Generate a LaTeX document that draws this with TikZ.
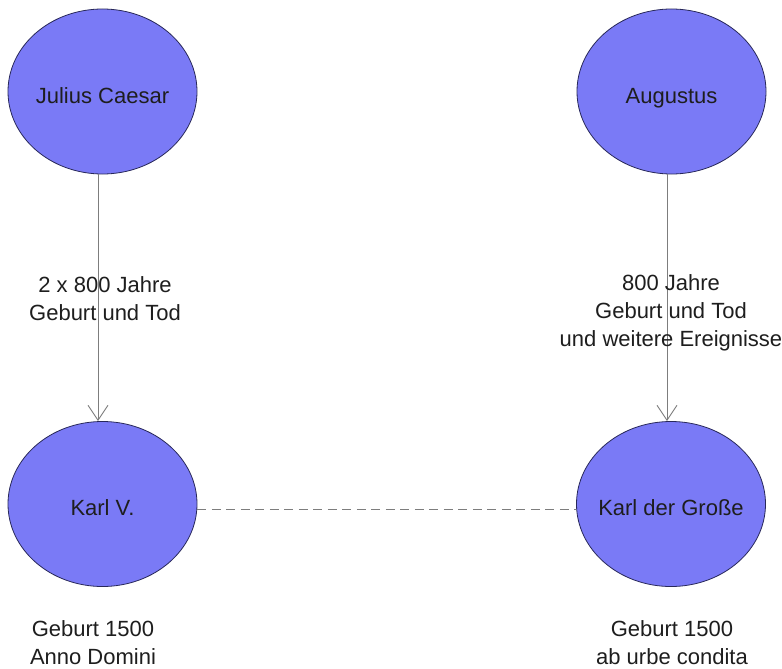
\documentclass[tikz,border=0pt]{standalone}
\usepackage{fontspec}
\setmainfont{Liberation Sans}
\usetikzlibrary{shapes.geometric,arrows.meta}
\definecolor{ellfill}{RGB}{122,122,246}
\definecolor{ellline}{RGB}{40,40,90}
\definecolor{conn}{RGB}{125,125,125}
\definecolor{txt}{RGB}{30,30,30}
\newcommand{\ptxt}[1]{\makebox[0pt]{\rule[-6pt]{0pt}{35pt}#1}}
\begin{document}
\begin{tikzpicture}[x=1pt,y=-1pt,
  person/.style={ellipse,draw=ellline,line width=0.8pt,fill=ellfill,minimum width=189pt,minimum height=165pt,inner sep=0pt,text=txt,font=\fontsize{22}{28}\selectfont},
  lbl/.style={align=center,text=txt,font=\fontsize{22}{28}\selectfont,inner sep=0pt},
  rel/.style={draw=conn,line width=0.9pt,-{Straight Barb[length=15pt,width=20pt,line width=0.9pt]}},
  eq/.style={draw=conn,line width=0.9pt,dash pattern=on 9pt off 5.5pt}]
\useasboundingbox[fill=white] (0,0) rectangle (782,669);
\node[person] (jc) at (102.5,91.5) {\ptxt{Julius Caesar}};
\node[person] (au) at (671.5,91.5) {\ptxt{Augustus}};
\node[person] (kv) at (102.5,504) {\ptxt{Karl V.}};
\node[person] (kg) at (671,504) {\ptxt{Karl der Große}};
\draw[rel] ([xshift=-4.5pt]jc.south) -- ([xshift=-4.5pt]kv.north);
\draw[rel] ([xshift=-4.5pt]au.south) -- ([xshift=-4pt]kg.north);
\draw[eq] ([yshift=-5pt]kv.east) -- ([yshift=-5pt]kg.west);
\node[lbl] (l1) at (105,299) {2 x 800 Jahre\\Geburt und Tod};
\node[lbl] (l2) at (671,313) {800 Jahre\\Geburt und Tod\\und weitere Ereignisse};
\node[lbl] (l3) at (93,643) {Geburt 1500\\Anno Domini};
\node[lbl] (l4) at (672,643) {Geburt 1500\\ab urbe condita};
\end{tikzpicture}
\end{document}
